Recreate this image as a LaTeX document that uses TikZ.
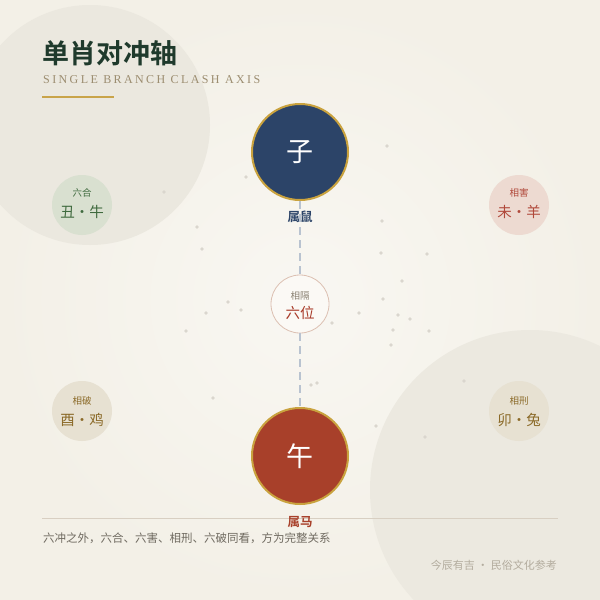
\documentclass[tikz,border=0pt]{standalone}
\usepackage{fontspec}
\setmainfont{Liberation Serif}
\newfontfamily\cjk{Noto Sans CJK SC}
\newfontfamily\cjkb{Noto Sans CJK SC Bold}
\newfontfamily\spacedlat[LetterSpace=20]{Liberation Serif}
\definecolor{bgc}{HTML}{F3F0E7}
\definecolor{bglight}{HTML}{F9F7F2}
\definecolor{discA}{HTML}{EBE8DF}
\definecolor{discB}{HTML}{ECE9E0}
\definecolor{titlegreen}{HTML}{1F3A2C}
\definecolor{subtan}{HTML}{9C8D70}
\definecolor{goldline}{HTML}{C9A44A}
\definecolor{navy}{HTML}{2C4468}
\definecolor{brick}{HTML}{A8402A}
\definecolor{ringgold}{HTML}{C9A23E}
\definecolor{dashc}{HTML}{B9C3D0}
\definecolor{dotc}{HTML}{DAD6CE}
\definecolor{midring}{HTML}{DCC0B2}
\definecolor{midfill}{HTML}{FBF9F5}
\definecolor{graytxt}{HTML}{8A8172}
\definecolor{redtxt}{HTML}{A83A28}
\definecolor{greenfill}{HTML}{D9E0D0}
\definecolor{greentxt}{HTML}{3F6A3E}
\definecolor{pinkfill}{HTML}{EDDAD1}
\definecolor{pinktxt}{HTML}{B0483A}
\definecolor{tanfill}{HTML}{E7E1D2}
\definecolor{tantxt}{HTML}{8B6A28}
\definecolor{rulec}{HTML}{D8CFC2}
\definecolor{notetxt}{HTML}{6F6A60}
\definecolor{foottxt}{HTML}{B3AC9E}
\tikzset{
  bigbranch/.style={circle, minimum size=96pt, inner sep=0pt, draw=ringgold, line width=2pt, text=white, font=\cjk\fontsize{27}{27}\selectfont},
  sidedisc/.style={circle, minimum size=60pt, inner sep=0pt, draw=none},
  smalllab/.style={font=\cjk\fontsize{9.5}{10}\selectfont, inner sep=0pt},
  biglab/.style={font=\cjk\fontsize{14.5}{15}\selectfont, inner sep=0pt},
  zodiac/.style={font=\cjkb\fontsize{12.5}{13}\selectfont, inner sep=1pt},
  axisdash/.style={draw=dashc, line width=1.4pt, dash pattern=on 8pt off 5pt},
  speck/.style={fill=dotc, draw=none}
}
\begin{document}
\begin{tikzpicture}[x=1pt,y=-1pt]
\useasboundingbox (0,0) rectangle (600,600);
% background
\fill[bgc] (0,0) rectangle (600,600);
\fill[inner color=bglight, outer color=bgc] (0,0) rectangle (600,600);
\begin{scope}
\clip (0,0) rectangle (600,600);
\fill[discA] (90,125) circle[radius=120];
\fill[discB] (530,490) circle[radius=160];
\end{scope}
% specks
\foreach \p in {(164,192),(197,227),(202,249),(228,302),(241,310),(206,313),(186,331),(213,398),
  (246,177),(382,221),(381,253),(427,254),(402,281),(383,299),(359,313),(398,315),(410,319),
  (393,330),(429,331),(391,345),(332,323),(387,146),(311,385),(317,383),(464,381),(425,437),(376,426)}
  \fill[speck] \p circle[radius=1.8];
% title
\node[anchor=west, inner sep=0pt, text=titlegreen, font=\cjkb\fontsize{27}{28}\selectfont] (title) at (42,53) {单肖对冲轴};
\node[anchor=west, inner sep=0pt, text=subtan, font=\spacedlat\fontsize{12}{13}\selectfont] (subtitle) at (43,80) {SINGLE BRANCH CLASH AXIS};
\coordinate (gl1) at (42,97);
\coordinate (gl2) at (114,97);
\draw[goldline, line width=2.4pt] (gl1) -- (gl2);
% axis
\node[bigbranch, fill=navy] (zi) at (300,152) {子};
\node[circle, minimum size=58pt, inner sep=0pt, fill=midfill, draw=midring, line width=0.8pt] (mid) at (300,304) {};
\node[bigbranch, fill=brick] (wu) at (300,456) {午};
\draw[axisdash] (zi.south) -- (mid.north);
\draw[axisdash] (mid.south) -- (wu.north);
\node[zodiac, text=navy] (shu) at (300,217) {属鼠};
\node[smalllab, text=graytxt] (xg) at (300,296) {相隔};
\node[biglab, text=redtxt] (lw) at (300,313) {六位};
% rule
\coordinate (r1) at (42,518);
\coordinate (r2) at (558,518);
\draw[rulec, line width=0.8pt] (r1) -- (r2);
\node[zodiac, text=brick] (ma) at (300,522) {属马};
% side discs
\node[sidedisc, fill=greenfill] (d1) at (82,205) {};
\node[smalllab, text=greentxt] at (82,193) {六合};
\node[biglab, text=greentxt] at (82,212) {丑·牛};
\node[sidedisc, fill=pinkfill] (d2) at (519,205) {};
\node[smalllab, text=pinktxt] at (519,193) {相害};
\node[biglab, text=pinktxt] at (519,212) {未·羊};
\node[sidedisc, fill=tanfill] (d3) at (82,411) {};
\node[smalllab, text=tantxt] at (82,401) {相破};
\node[biglab, text=tantxt] at (82,420) {酉·鸡};
\node[sidedisc, fill=tanfill] (d4) at (519,411) {};
\node[smalllab, text=tantxt] at (519,401) {相刑};
\node[biglab, text=tantxt] at (519,420) {卯·兔};
% notes
\node[anchor=west, inner sep=0pt, text=notetxt, font=\cjk\fontsize{11.5}{12}\selectfont] (note) at (43,538) {六冲之外，六合、六害、相刑、六破同看，方为完整关系};
\node[anchor=east, inner sep=0pt, text=foottxt, font=\cjk\fontsize{11}{12}\selectfont] (foot) at (557,565) {今辰有吉 · 民俗文化参考};
\end{tikzpicture}
\end{document}
